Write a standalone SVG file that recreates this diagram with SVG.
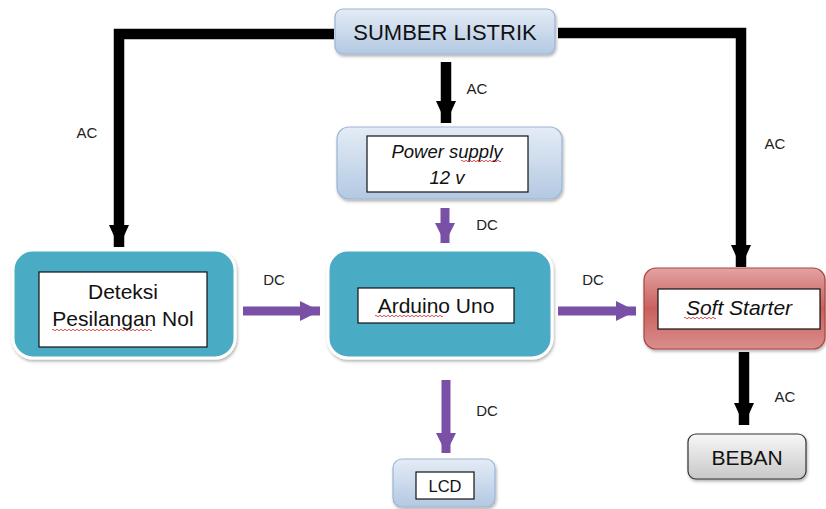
<svg xmlns="http://www.w3.org/2000/svg" width="826" height="509" viewBox="0 0 826 509">
<defs>
<linearGradient id="gBlue" x1="0" y1="0" x2="0" y2="1"><stop offset="0" stop-color="#e4ecf6"/><stop offset="1" stop-color="#b3c8e2"/></linearGradient>
<linearGradient id="gRed" x1="0" y1="0" x2="0" y2="1"><stop offset="0" stop-color="#e3a3a1"/><stop offset="0.5" stop-color="#c9615e"/><stop offset="1" stop-color="#d98e8c"/></linearGradient>
<linearGradient id="gGray" x1="0" y1="0" x2="0" y2="1"><stop offset="0" stop-color="#f7f7f7"/><stop offset="1" stop-color="#c8c8c8"/></linearGradient>
<filter id="sh" x="-10%" y="-10%" width="120%" height="130%"><feDropShadow dx="1" dy="2" stdDeviation="1.5" flood-color="#000" flood-opacity="0.3"/></filter>
<marker id="mBlack" markerUnits="userSpaceOnUse" viewBox="0 0 22 20" refX="22" refY="10" markerWidth="22" markerHeight="20" orient="auto"><path d="M0,0 L22,10 L0,20 Z" fill="#000"/></marker>
<marker id="mPurple" markerUnits="userSpaceOnUse" viewBox="0 0 20 20" refX="20" refY="10" markerWidth="20" markerHeight="20" orient="auto"><path d="M0,0 L20,10 L0,20 Z" fill="#7a4fa6"/></marker>
</defs>
<style>
.t{font-family:"Liberation Sans",Arial,sans-serif;fill:#111;text-anchor:middle}
.lbl{font-family:"Liberation Sans",Arial,sans-serif;font-size:15px;fill:#222;text-anchor:middle}
.blue{fill:url(#gBlue);stroke:#9bb5d6;stroke-width:1.2}
.teal{fill:#4aabc4;stroke:#ffffff;stroke-width:3}
.inner{fill:#fff;stroke:#111;stroke-width:1.2}
.blk{fill:none;stroke:#000;stroke-width:10.5;marker-end:url(#mBlack)}
.pur{fill:none;stroke:#7a4fa6;stroke-width:9;marker-end:url(#mPurple)}
.sq{fill:none;stroke:#d23b3b;stroke-width:0.9}
</style>
<g id="connectors">
<path class="blk" d="M334,34 H119 V247"/>
<path class="blk" d="M558,33 H741 V267"/>
<path class="blk" d="M446,62 V123"/>
<path class="blk" d="M744,352 V425"/>
<path class="pur" d="M445,208 V243"/>
<path class="pur" d="M243,311 H320"/>
<path class="pur" d="M558,311 H636"/>
<path class="pur" d="M446,380 V453"/>
<text class="lbl" x="87" y="138">AC</text>
<text class="lbl" x="477" y="94">AC</text>
<text class="lbl" x="775" y="149">AC</text>
<text class="lbl" x="487" y="230">DC</text>
<text class="lbl" x="274" y="285">DC</text>
<text class="lbl" x="593" y="285">DC</text>
<text class="lbl" x="487" y="416">DC</text>
<text class="lbl" x="785" y="402">AC</text>
</g>
<g id="sumber">
<rect class="blue" x="335" y="9" width="220" height="45" rx="8" filter="url(#sh)"/>
<text class="t" x="445" y="40" font-size="22">SUMBER LISTRIK</text>
</g>
<g id="psu">
<rect class="blue" x="337" y="127" width="225" height="72" rx="12" filter="url(#sh)"/>
<rect class="inner" x="367" y="136" width="161" height="56"/>
<text class="t" x="447" y="158" font-size="18.5" font-style="italic">Power supply</text>
<text class="t" x="447" y="184" font-size="18.5" font-style="italic">12 v</text>
<path class="sq" d="M461,161 q1,-1.5 2,0 t2,0 t2,0 t2,0 t2,0 t2,0 t2,0 t2,0 t2,0 t2,0 t2,0 t2,0 t2,0 t2,0 t2,0 t2,0 t2,0 t2,0 t2,0 t2,0"/>
</g>
<g id="deteksi">
<rect class="teal" x="13" y="250" width="222" height="108" rx="20" filter="url(#sh)"/>
<rect class="inner" x="39" y="272" width="168" height="75"/>
<text class="t" x="123" y="299" font-size="21">Deteksi</text>
<text class="t" x="123" y="326" font-size="21">Pesilangan Nol</text>
<path class="sq" d="M52,330 q1,-1.5 2,0 t2,0 t2,0 t2,0 t2,0 t2,0 t2,0 t2,0 t2,0 t2,0 t2,0 t2,0 t2,0 t2,0 t2,0 t2,0 t2,0 t2,0 t2,0 t2,0 t2,0 t2,0 t2,0 t2,0 t2,0 t2,0 t2,0 t2,0 t2,0 t2,0 t2,0 t2,0 t2,0 t2,0 t2,0 t2,0 t2,0 t2,0 t2,0 t2,0 t2,0 t2,0 t2,0 t2,0 t2,0 t2,0 t2,0 t2,0 t2,0 t2,0"/>
</g>
<g id="arduino">
<rect class="teal" x="328" y="250" width="224" height="108" rx="20" filter="url(#sh)"/>
<rect class="inner" x="358" y="288" width="156" height="35"/>
<text class="t" x="436" y="313" font-size="21">Arduino Uno</text>
<path class="sq" d="M375,316 q1,-1.5 2,0 t2,0 t2,0 t2,0 t2,0 t2,0 t2,0 t2,0 t2,0 t2,0 t2,0 t2,0 t2,0 t2,0 t2,0 t2,0 t2,0 t2,0 t2,0 t2,0 t2,0 t2,0 t2,0 t2,0 t2,0 t2,0 t2,0 t2,0 t2,0 t2,0 t2,0 t2,0 t2,0 t2,0"/>
</g>
<g id="softstarter">
<rect x="644" y="268" width="181" height="81" rx="12" fill="url(#gRed)" stroke="#a94442" stroke-width="1.2" filter="url(#sh)"/>
<rect class="inner" x="658" y="289" width="162" height="40"/>
<text class="t" x="739" y="315" font-size="21" font-style="italic">Soft Starter</text>
<path class="sq" d="M684,318 q1,-1.5 2,0 t2,0 t2,0 t2,0 t2,0 t2,0 t2,0 t2,0 t2,0 t2,0 t2,0 t2,0 t2,0 t2,0 t2,0 t2,0"/>
</g>
<g id="beban">
<rect x="688" y="434" width="118" height="45" rx="8" fill="url(#gGray)" stroke="#333" stroke-width="1.2" filter="url(#sh)"/>
<text class="t" x="747" y="465" font-size="21">BEBAN</text>
</g>
<g id="lcd">
<rect class="blue" x="393" y="459" width="102" height="48" rx="9" filter="url(#sh)"/>
<rect class="inner" x="416" y="472" width="58" height="27"/>
<text class="t" x="445" y="492" font-size="16.5">LCD</text>
</g>
</svg>
